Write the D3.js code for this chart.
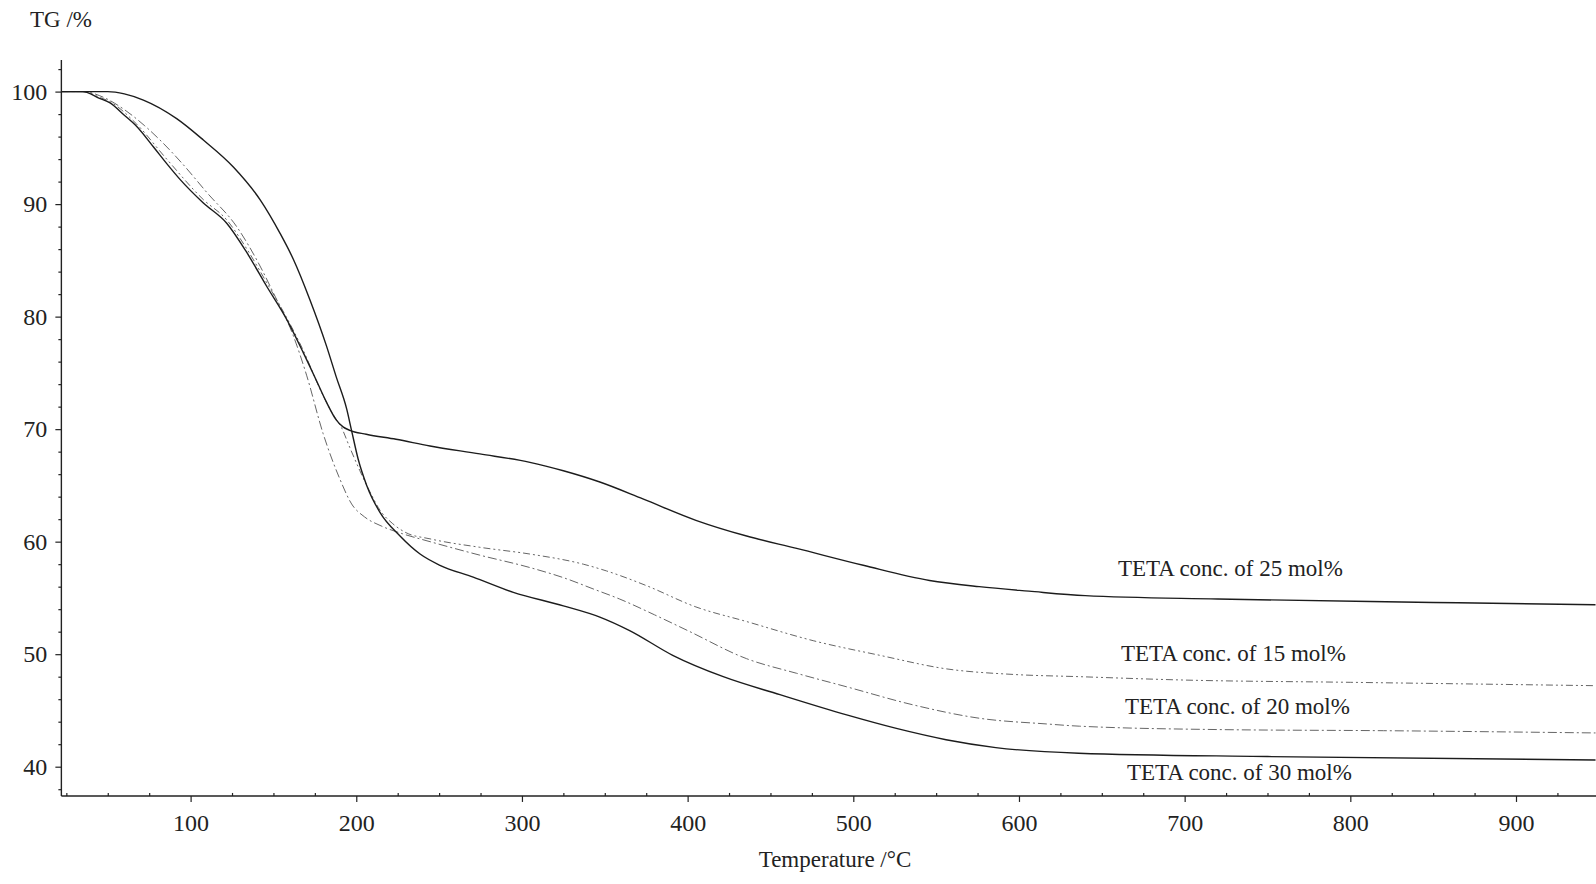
<!DOCTYPE html>
<html>
<head>
<meta charset="utf-8">
<script src="https://cdn.jsdelivr.net/npm/d3@7"></script>
<style>
  html, body { margin: 0; padding: 0; background: #fff; }
  svg { display: block; }
  text { font-family: "Liberation Serif", "Times New Roman", serif; fill: #222; }
</style>
</head>
<body>
<svg id="chart" width="1596" height="884"></svg>
<script>
// TG curves, temperature in degC and mass in %
const t15 = [22, 35, 45, 51.4, 67.5, 85, 107.7, 121.8, 134, 146, 158, 168, 178, 186, 191.2, 196, 202.2, 208, 214.3, 222, 230, 244.5, 274.6, 304.8, 337, 351, 375, 405, 435.6, 475.8, 516, 556, 596.5, 636.7, 700, 800, 948];
const w15 = [100, 100, 99.5, 99.1, 97.1, 94.1, 90.4, 88.6, 86.0, 83.0, 79.9, 77.0, 73.6, 71.3, 70.1, 68.4, 66.3, 64.5, 62.8, 61.6, 60.8, 60.25, 59.5, 58.9, 58.0, 57.4, 56.1, 54.2, 52.9, 51.2, 49.9, 48.7, 48.2, 48.0, 47.7, 47.5, 47.2];

const t20 = [22, 35, 47.3, 60, 72, 81.5, 95, 110, 127.8, 141.9, 150, 162, 170, 180, 190, 197.2, 205, 215, 228, 244.5, 274.6, 304.8, 327, 343, 359, 380, 400, 435.6, 465.8, 496, 536, 576.4, 616.6, 636.7, 720, 820, 948];
const w20 = [100, 100, 99.5, 98.4, 97.0, 95.7, 93.6, 91.0, 88.0, 84.5, 82.1, 78.3, 74.8, 69.6, 65.6, 63.35, 62.2, 61.4, 60.7, 60.0, 58.8, 57.7, 56.7, 55.8, 54.9, 53.5, 52.1, 49.6, 48.3, 47.1, 45.5, 44.3, 43.8, 43.6, 43.3, 43.2, 43.0];

const t25 = [22, 35, 45, 51.4, 60, 67.5, 77.5, 85.6, 93.6, 107.7, 121.8, 133.9, 145.9, 158, 168, 176, 182, 188, 192, 196, 206, 224, 244.5, 274.6, 304.8, 325, 347, 373, 405, 435.6, 465.8, 506, 546, 576, 606, 640, 720, 850, 948];
const w25 = [100, 100, 99.4, 99.0, 97.9, 96.9, 95.1, 93.6, 92.2, 90.1, 88.3, 85.7, 82.7, 79.75, 76.8, 74.3, 72.4, 70.8, 70.2, 69.9, 69.55, 69.1, 68.5, 67.8, 67.05, 66.3, 65.3, 63.8, 61.9, 60.5, 59.4, 57.9, 56.55, 56.0, 55.6, 55.2, 54.9, 54.6, 54.4];

const t30 = [22, 50, 60, 71.5, 91.6, 107.7, 125.8, 141.9, 154, 162, 172, 182, 188, 194.2, 197.2, 201.2, 206.3, 214.3, 226.4, 238.5, 250.5, 270.6, 294.8, 325, 347, 365, 391, 421.5, 455.7, 496, 526, 556, 586, 636, 750, 948];
const w30 = [100, 100, 99.8, 99.25, 97.6, 95.7, 93.3, 90.4, 87.4, 85.1, 81.5, 77.4, 74.6, 71.8, 69.85, 67.3, 65.0, 62.6, 60.5, 58.9, 57.9, 56.85, 55.5, 54.3, 53.3, 52.1, 49.9, 48.0, 46.4, 44.6, 43.4, 42.4, 41.7, 41.2, 40.9, 40.6];

const series_names = ["TETA conc. of 15 mol%", "TETA conc. of 20 mol%", "TETA conc. of 25 mol%", "TETA conc. of 30 mol%"];

const x_ticks = [100, 200, 300, 400, 500, 600, 700, 800, 900];
const y_ticks = [40, 50, 60, 70, 80, 90, 100];
const x_extent = [22, 950];
const y_extent = [37.4, 102.8];

const solid_color = "#1c1c1c";
const dash_color = "#666";

const series = [
  { name: series_names[0], t: t15, w: w15, dash: "7 3 2 3 2 3", color: dash_color, width: 1, label_x: 1121, label_y: 661 },
  { name: series_names[1], t: t20, w: w20, dash: "9 3 2 3", color: dash_color, width: 1, label_x: 1125, label_y: 714 },
  { name: series_names[2], t: t25, w: w25, dash: null, color: solid_color, width: 1.4, label_x: 1118, label_y: 576 },
  { name: series_names[3], t: t30, w: w30, dash: null, color: solid_color, width: 1.4, label_x: 1127, label_y: 780 },
];

const svg = d3.select("#chart");

const x = d3.scaleLinear().domain([100, 900]).range([190.6, 1516]);
const y = d3.scaleLinear().domain([40, 100]).range([766.7, 91.6]);

const x_axis_y = y(y_extent[0]);
const y_axis_x = x(x_extent[0]);

// axis lines
svg.append("line")
  .attr("x1", y_axis_x).attr("x2", x(x_extent[1]))
  .attr("y1", x_axis_y).attr("y2", x_axis_y)
  .attr("stroke", "#222").attr("stroke-width", 1.4);
svg.append("line")
  .attr("x1", y_axis_x).attr("x2", y_axis_x)
  .attr("y1", y(y_extent[1])).attr("y2", x_axis_y)
  .attr("stroke", "#222").attr("stroke-width", 1.4);

// minor ticks
const x_minor = d3.range(25, 950, 25).filter((d) => d % 100 !== 0);
const y_minor = d3.range(38, 103, 2).filter((d) => d % 10 !== 0);

const x_minor_axis = svg.append("g")
  .attr("transform", `translate(0,${x_axis_y})`)
  .call(d3.axisBottom(x).tickValues(x_minor).tickSize(-3).tickFormat(""));
const y_minor_axis = svg.append("g")
  .attr("transform", `translate(${y_axis_x},0)`)
  .call(d3.axisLeft(y).tickValues(y_minor).tickSize(3).tickFormat(""));

const x_axis = svg.append("g")
  .attr("transform", `translate(0,${x_axis_y})`)
  .call(d3.axisBottom(x).tickValues(x_ticks).tickSize(6).tickPadding(12));
const y_axis = svg.append("g")
  .attr("transform", `translate(${y_axis_x},0)`)
  .call(d3.axisLeft(y).tickValues(y_ticks).tickSize(6).tickPadding(8));

[x_minor_axis, y_minor_axis, x_axis, y_axis].forEach((g) => {
  g.select(".domain").remove();
  g.selectAll(".tick line").attr("stroke", "#222").attr("stroke-width", 1.2);
});
x_axis.selectAll(".tick text").attr("font-size", 24).attr("fill", "#222");
y_axis.selectAll(".tick text").attr("font-size", 24).attr("fill", "#222");

// axis titles
svg.append("text")
  .attr("x", 30).attr("y", 27)
  .attr("font-size", 23)
  .text("TG /%");
svg.append("text")
  .attr("x", 835).attr("y", 867)
  .attr("text-anchor", "middle")
  .attr("font-size", 23)
  .text("Temperature /\u00B0C");

// curves
const line = d3.line()
  .x((d) => x(d[0]))
  .y((d) => y(d[1]))
  .curve(d3.curveMonotoneX);

svg.append("g")
  .selectAll("path")
  .data(series)
  .join("path")
  .attr("d", (s) => line(d3.zip(s.t, s.w)))
  .attr("fill", "none")
  .attr("stroke", (s) => s.color)
  .attr("stroke-width", (s) => s.width)
  .attr("stroke-dasharray", (s) => s.dash);

svg.append("g")
  .selectAll("text")
  .data(series)
  .join("text")
  .attr("x", (s) => s.label_x)
  .attr("y", (s) => s.label_y)
  .attr("font-size", 23)
  .text((s) => s.name);
</script>
</body>
</html>
